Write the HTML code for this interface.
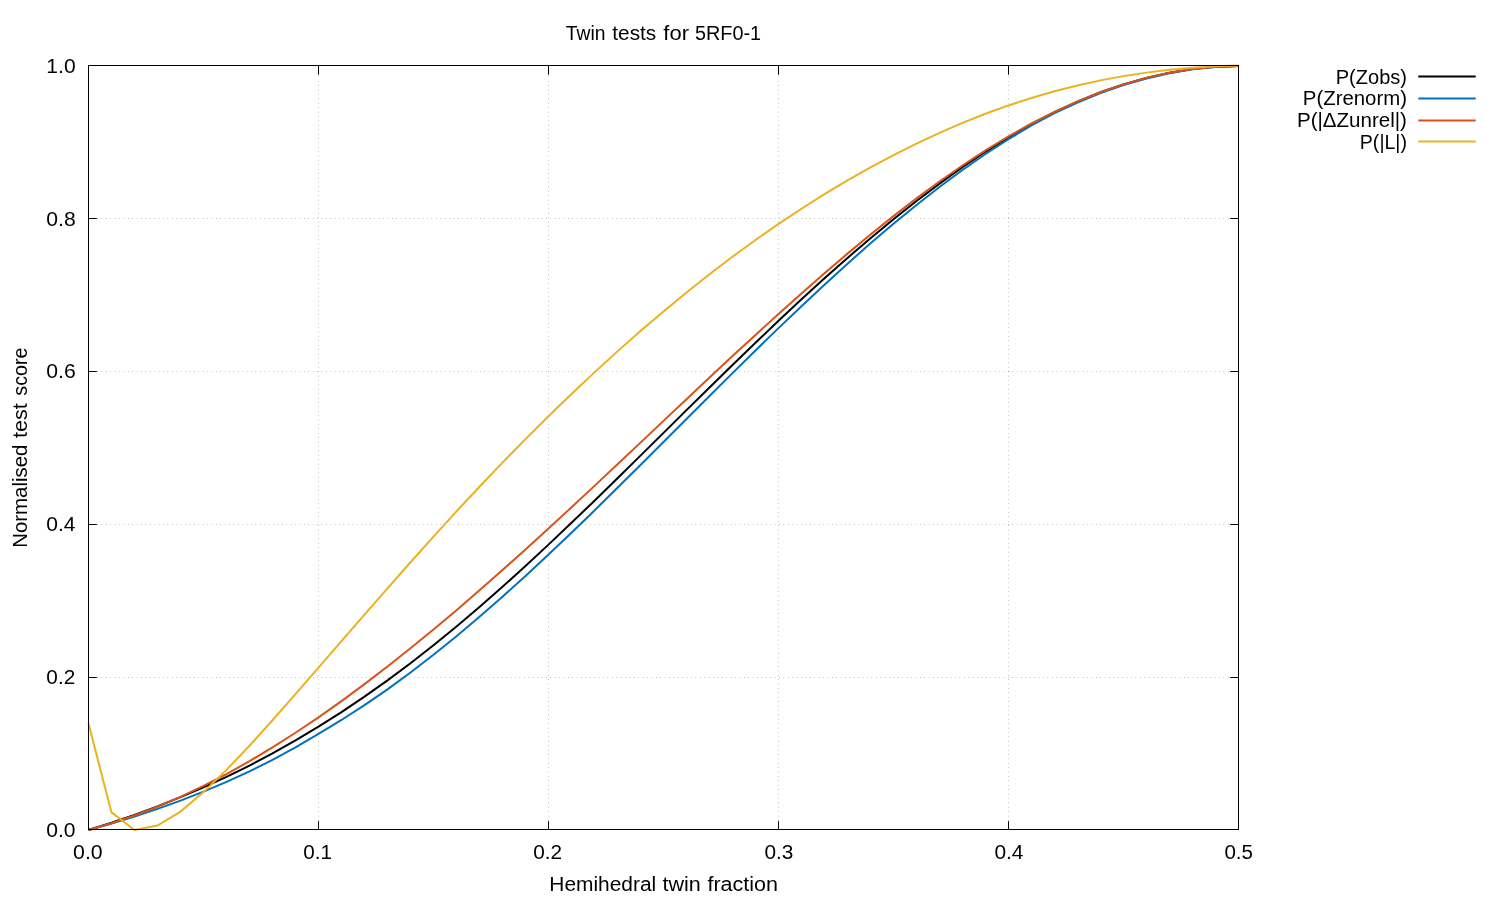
<!DOCTYPE html>
<html><head><meta charset="utf-8"><title>Twin tests for 5RF0-1</title>
<style>html,body{margin:0;padding:0;background:#fff;width:1500px;height:900px;overflow:hidden}svg text{font-family:"Liberation Sans",sans-serif}</style></head>
<body>
<svg width="1500" height="900" viewBox="0 0 1500 900" style="position:absolute;left:0;top:0">
<rect width="1500" height="900" fill="#fff"/>
<g stroke="#000" stroke-opacity="1" stroke-width="0.5" fill="none" stroke-dasharray="0.45 3.95">
<path d="M88.5,677.5 H1238.5"/>
<path d="M88.5,524.5 H1238.5"/>
<path d="M88.5,371.5 H1238.5"/>
<path d="M88.5,218.5 H1238.5"/>
<path d="M318.5,829.5 V65.5"/>
<path d="M548.5,829.5 V65.5"/>
<path d="M778.5,829.5 V65.5"/>
<path d="M1008.5,829.5 V65.5"/>
</g>
<g fill="none" stroke-width="2" stroke-linejoin="miter" stroke-linecap="butt">
<path d="M88.50,830.00 L111.50,822.75 L134.50,814.83 L157.50,806.33 L180.50,797.14 L203.50,787.29 L226.50,776.79 L249.50,765.58 L272.50,753.45 L295.50,740.47 L318.50,726.66 L341.50,712.10 L364.50,696.67 L387.50,680.38 L410.50,663.23 L433.50,645.26 L456.50,626.50 L479.50,606.99 L502.50,586.80 L525.50,565.99 L548.50,544.64 L571.50,522.84 L594.50,500.69 L617.50,478.24 L640.50,455.61 L663.50,432.87 L686.50,410.12 L709.50,387.46 L732.50,364.96 L755.50,342.71 L778.50,320.81 L801.50,299.33 L824.50,278.34 L847.50,257.94 L870.50,238.18 L893.50,219.15 L916.50,200.94 L939.50,183.59 L962.50,167.18 L985.50,151.78 L1008.50,137.45 L1031.50,124.24 L1054.50,112.25 L1077.50,101.62 L1100.50,92.31 L1123.50,84.42 L1146.50,77.86 L1169.50,72.74 L1192.50,69.06 L1215.50,66.82 L1238.50,66.00" stroke="#000000"/>
<path d="M88.50,830.00 L111.50,823.55 L134.50,816.48 L157.50,808.84 L180.50,800.62 L203.50,791.68 L226.50,781.92 L249.50,771.40 L272.50,759.84 L295.50,747.33 L318.50,733.92 L341.50,719.98 L364.50,705.14 L387.50,689.35 L410.50,672.52 L433.50,654.79 L456.50,636.20 L479.50,616.81 L502.50,596.70 L525.50,575.91 L548.50,554.54 L571.50,532.68 L594.50,510.41 L617.50,487.82 L640.50,465.00 L663.50,442.02 L686.50,419.00 L709.50,396.01 L732.50,373.15 L755.50,350.50 L778.50,328.15 L801.50,306.18 L824.50,284.67 L847.50,263.71 L870.50,243.37 L893.50,223.75 L916.50,204.92 L939.50,186.97 L962.50,169.96 L985.50,153.99 L1008.50,139.13 L1031.50,125.44 L1054.50,113.20 L1077.50,102.50 L1100.50,93.16 L1123.50,85.13 L1146.50,78.44 L1169.50,73.19 L1192.50,69.33 L1215.50,66.90 L1238.50,66.00" stroke="#0072bd"/>
<path d="M88.50,830.00 L111.50,823.26 L134.50,815.49 L157.50,806.73 L180.50,796.86 L203.50,785.93 L226.50,774.02 L249.50,761.17 L272.50,747.40 L295.50,732.77 L318.50,717.31 L341.50,701.10 L364.50,684.17 L387.50,666.55 L410.50,648.31 L433.50,629.50 L456.50,610.15 L479.50,590.33 L502.50,570.09 L525.50,549.48 L548.50,528.55 L571.50,507.34 L594.50,485.89 L617.50,464.30 L640.50,442.61 L663.50,420.88 L686.50,399.18 L709.50,377.56 L732.50,356.10 L755.50,334.91 L778.50,313.99 L801.50,293.43 L824.50,273.28 L847.50,253.63 L870.50,234.54 L893.50,216.10 L916.50,198.40 L939.50,181.50 L962.50,165.47 L985.50,150.40 L1008.50,136.37 L1031.50,123.49 L1054.50,111.80 L1077.50,101.35 L1100.50,92.21 L1123.50,84.33 L1146.50,77.79 L1169.50,72.69 L1192.50,69.03 L1215.50,66.80 L1238.50,66.00" stroke="#d95319"/>
<path d="M88.50,723.60 L111.50,812.40 L134.50,830.00 L157.50,825.60 L180.50,811.60 L203.50,792.11 L226.50,769.87 L249.50,745.71 L272.50,720.25 L295.50,694.04 L318.50,667.58 L341.50,641.11 L364.50,614.63 L387.50,588.30 L410.50,562.25 L433.50,536.58 L456.50,511.39 L479.50,486.74 L502.50,462.65 L525.50,439.16 L548.50,416.28 L571.50,394.00 L594.50,372.36 L617.50,351.38 L640.50,331.07 L663.50,311.43 L686.50,292.47 L709.50,274.24 L732.50,256.76 L755.50,239.98 L778.50,223.93 L801.50,208.71 L824.50,194.21 L847.50,180.41 L870.50,167.39 L893.50,155.11 L916.50,143.62 L939.50,132.88 L962.50,122.87 L985.50,113.70 L1008.50,105.43 L1031.50,97.94 L1054.50,91.28 L1077.50,85.42 L1100.50,80.38 L1123.50,76.13 L1146.50,72.63 L1169.50,69.83 L1192.50,67.79 L1215.50,66.15 L1238.50,65.40" stroke="#edb120"/>
</g>
<g fill="none" stroke-width="2">
<path d="M1418.3,76.4 H1475.7" stroke="#000000"/>
<path d="M1418.3,98.4 H1475.7" stroke="#0072bd"/>
<path d="M1418.3,120.4 H1475.7" stroke="#d95319"/>
<path d="M1418.3,141.5 H1475.7" stroke="#edb120"/>
</g>
<g stroke="#000" stroke-width="1" fill="none">
<path d="M318.5,829.5 v-8.3 M318.5,65.5 v9.2"/>
<path d="M548.5,829.5 v-8.3 M548.5,65.5 v9.2"/>
<path d="M778.5,829.5 v-8.3 M778.5,65.5 v9.2"/>
<path d="M1008.5,829.5 v-8.3 M1008.5,65.5 v9.2"/>
<path d="M88.5,677.5 h8.3 M1238.5,677.5 h-8.3"/>
<path d="M88.5,524.5 h8.3 M1238.5,524.5 h-8.3"/>
<path d="M88.5,371.5 h8.3 M1238.5,371.5 h-8.3"/>
<path d="M88.5,218.5 h8.3 M1238.5,218.5 h-8.3"/>
<rect x="88.5" y="65.5" width="1150" height="764"/>
</g>
<g font-family="Liberation Sans, sans-serif" fill="#000" opacity="0.999">
<text x="565.72" y="39.8" font-size="20" text-anchor="start" textLength="39.69" lengthAdjust="spacingAndGlyphs" id="t1">Twin</text>
<text x="612.34" y="39.8" font-size="20" text-anchor="start" textLength="43.94" lengthAdjust="spacingAndGlyphs" id="t2">tests</text>
<text x="663.33" y="39.8" font-size="20" text-anchor="start" textLength="25.65" lengthAdjust="spacingAndGlyphs" id="t3">for</text>
<text x="695.03" y="39.8" font-size="20" text-anchor="start" textLength="66.11" lengthAdjust="spacingAndGlyphs" id="t4">5RF0-1</text>
<text x="549.3" y="890.8" font-size="20" text-anchor="start" textLength="106.95" lengthAdjust="spacingAndGlyphs" id="xl1">Hemihedral</text>
<text x="662.43" y="890.8" font-size="20" text-anchor="start" textLength="38.3" lengthAdjust="spacingAndGlyphs" id="xl2">twin</text>
<text x="707.43" y="890.8" font-size="20" text-anchor="start" textLength="70.51" lengthAdjust="spacingAndGlyphs" id="xl3">fraction</text>
<text x="1335.77" y="83.7" font-size="20" text-anchor="start" textLength="71.18" lengthAdjust="spacingAndGlyphs" id="l0">P(Zobs)</text>
<text x="1302.85" y="104.9" font-size="20" text-anchor="start" textLength="104.11" lengthAdjust="spacingAndGlyphs" id="l1">P(Zrenorm)</text>
<text x="1296.93" y="126.8" font-size="20" text-anchor="start" textLength="110.04" lengthAdjust="spacingAndGlyphs" id="l2">P(|ΔZunrel|)</text>
<text x="1359.81" y="148.7" font-size="20" text-anchor="start" textLength="47.18" lengthAdjust="spacingAndGlyphs" id="l3">P(|L|)</text>
<text x="46.34" y="837" font-size="20" text-anchor="start" textLength="29.25" lengthAdjust="spacingAndGlyphs" id="y0">0.0</text>
<text x="46.35" y="684" font-size="20" text-anchor="start" textLength="28.86" lengthAdjust="spacingAndGlyphs" id="y1">0.2</text>
<text x="46.34" y="531" font-size="20" text-anchor="start" textLength="29.18" lengthAdjust="spacingAndGlyphs" id="y2">0.4</text>
<text x="46.34" y="378" font-size="20" text-anchor="start" textLength="29.46" lengthAdjust="spacingAndGlyphs" id="y3">0.6</text>
<text x="46.34" y="226" font-size="20" text-anchor="start" textLength="29.35" lengthAdjust="spacingAndGlyphs" id="y4">0.8</text>
<text x="46.37" y="73" font-size="20" text-anchor="start" textLength="29.22" lengthAdjust="spacingAndGlyphs" id="y5">1.0</text>
<text x="73.1" y="859" font-size="20" text-anchor="start" textLength="29.56" lengthAdjust="spacingAndGlyphs" id="x0">0.0</text>
<text x="303.22" y="859" font-size="20" text-anchor="start" textLength="28.74" lengthAdjust="spacingAndGlyphs" id="x1">0.1</text>
<text x="533.22" y="859" font-size="20" text-anchor="start" textLength="28.88" lengthAdjust="spacingAndGlyphs" id="x2">0.2</text>
<text x="764.42" y="859" font-size="20" text-anchor="start" textLength="28.96" lengthAdjust="spacingAndGlyphs" id="x3">0.3</text>
<text x="994.42" y="859" font-size="20" text-anchor="start" textLength="29.07" lengthAdjust="spacingAndGlyphs" id="x4">0.4</text>
<text x="1224.43" y="859" font-size="20" text-anchor="start" textLength="28.61" lengthAdjust="spacingAndGlyphs" id="x5">0.5</text>
<text x="27.0" y="547.86" font-size="20" text-anchor="start" textLength="103.27" lengthAdjust="spacingAndGlyphs" transform="rotate(-90 27.0 547.86)" id="ylab1">Normalised</text>
<text x="27.0" y="438.07" font-size="20" text-anchor="start" textLength="34.7" lengthAdjust="spacingAndGlyphs" transform="rotate(-90 27.0 438.07)" id="ylab2">test</text>
<text x="27.0" y="395.72" font-size="20" text-anchor="start" textLength="48.21" lengthAdjust="spacingAndGlyphs" transform="rotate(-90 27.0 395.72)" id="ylab3">score</text>
</g>
</svg>
</body></html>
